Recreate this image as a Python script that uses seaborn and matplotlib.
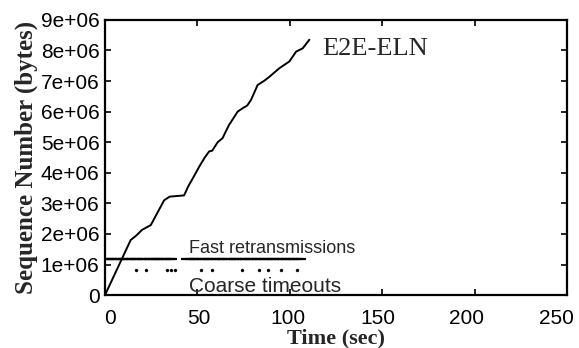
import numpy as np
import pandas as pd
import seaborn as sns
import matplotlib
matplotlib.use("Agg")
import matplotlib.pyplot as plt
import matplotlib.transforms as mtransforms
from matplotlib.ticker import FuncFormatter, MultipleLocator

# sequence number trace (E2E-ELN)
seq_t = [0, 13.9, 17, 20, 24.8, 28, 32, 35, 39, 42.8, 45, 48, 51, 54, 56.4, 58, 61,
         63.6, 67, 71.8, 74.5, 77, 79, 82.6, 86, 89, 94.4, 99.8, 103.4, 107, 110.6]
seq_v = [0, 1.8e6, 1.95e6, 2.13e6, 2.29e6, 2.65e6, 3.1e6, 3.22e6, 3.24e6, 3.26e6,
         3.55e6, 3.87e6, 4.2e6, 4.5e6, 4.7e6, 4.72e6, 5.0e6, 5.13e6, 5.55e6, 6.0e6,
         6.11e6, 6.2e6, 6.38e6, 6.87e6, 7.0e6, 7.14e6, 7.42e6, 7.64e6, 7.96e6, 8.07e6, 8.35e6]

# fast retransmissions
fast_t = [0.5, 2, 4, 6, 8, 10, 12, 14, 16, 17.5, 20, 21.5, 24, 26, 27.5, 29, 31, 33, 35, 36.5,
          44, 46, 48, 49.5, 52, 54, 56, 57.5, 60, 62, 63.5, 66, 68, 70, 71.5, 74, 76, 78,
          79.5, 82, 84, 86, 88, 90, 91.5, 94, 96, 98, 100, 102, 104, 106]
fast_level = 1.17e6

# coarse timeouts
coarse_t = [16.8, 22.2, 33.6, 35.8, 38, 52, 58, 74.3, 83.5, 88.4, 95.4, 104]
coarse_level = 0.82e6

seq = pd.DataFrame({"t": seq_t, "v": seq_v})
fast = pd.DataFrame({"t": fast_t, "v": [fast_level] * len(fast_t)})
coarse = pd.DataFrame({"t": coarse_t, "v": [coarse_level] * len(coarse_t)})

sns.set_theme(style="ticks")
plt.rcParams["font.family"] = ["Liberation Sans", "DejaVu Sans"]

fig = plt.figure(figsize=(5.79, 3.48), dpi=100)
ax = fig.add_axes([0.1813, 0.152, 0.798, 0.791])

sns.lineplot(data=seq, x="t", y="v", color="black", linewidth=1.4, ax=ax)
sns.scatterplot(data=fast, x="t", y="v", marker="_", s=45, color="black",
                linewidth=1.6, ax=ax)
sns.scatterplot(data=coarse, x="t", y="v", marker="o", s=5, color="black",
                edgecolor="black", ax=ax)

ax.set_xlim(0, 250)
ax.set_ylim(0, 9e6)
ax.xaxis.set_major_locator(MultipleLocator(50))
ax.yaxis.set_major_locator(MultipleLocator(1e6))
ax.yaxis.set_major_formatter(FuncFormatter(lambda v, p: "%g" % v))
ax.tick_params(direction="in", top=True, right=True, length=4, width=1.2,
               labelsize=15, colors="black")
ax.tick_params(axis="x", pad=10)
ax.tick_params(axis="y", pad=4)

for s in ax.spines.values():
    s.set_linewidth(1.6)
    s.set_color("black")

# the scanned labels drift slightly left of their ticks towards the right
fig.canvas.draw()
for lab in ax.get_xticklabels():
    t = lab.get_position()[0]
    dx = (5 - 16 * t / 250) / 100
    lab.set_transform(lab.get_transform() + mtransforms.ScaledTranslation(dx, 0, fig.dpi_scale_trans))

ax.set_xlabel("Time (sec)", family="Liberation Serif", fontweight="bold",
              fontsize=16, labelpad=0)
ax.set_ylabel("Sequence Number (bytes)", family="Liberation Serif",
              fontweight="bold", fontsize=18, labelpad=2)

ax.text(117.4, 7.85e6, "E2E-ELN", family="Liberation Serif", fontsize=19,
        va="baseline", ha="left")
ax.text(45.5, 1.37e6, "Fast retransmissions", fontsize=13, va="baseline", ha="left")
ax.text(45.5, 0.1e6, "Coarse timeouts", fontsize=15, va="baseline", ha="left")

fig.savefig("out.png", dpi=100)
